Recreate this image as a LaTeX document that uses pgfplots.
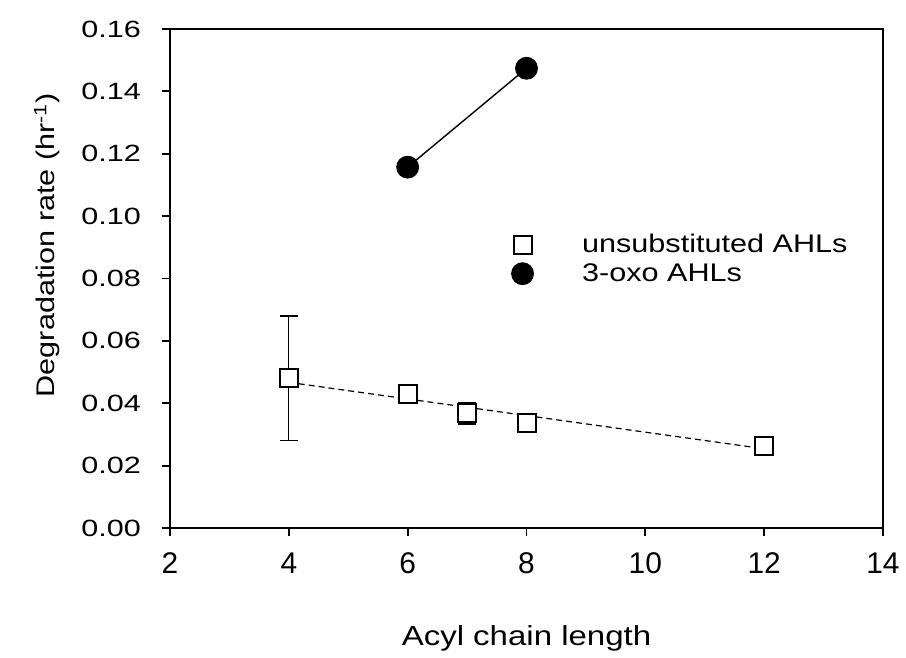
\documentclass[border=0pt]{standalone}
\usepackage{fontspec}
\setmainfont{Liberation Sans}
\newfontfamily\widefont{Liberation Sans}[FakeStretch=1.2]
\newfontfamily\ytickfont{Liberation Sans}[FakeStretch=1.3]
\usepackage{pgfplots}
\pgfplotsset{compat=1.18}
\pgfplotsset{mylegend/.style={legend image code/.code={%
  \path[draw=none, fill=none] (0,0) -- (1.28cm,0);
  \path[##1, draw=none] plot coordinates {(0.3cm,0cm)};}}}

\begin{document}
\begin{tikzpicture}
\begin{axis}[
  at={(0,0)}, anchor=south west,
  scale only axis,
  width=356.5bp, height=249.5bp,
  xmin=2, xmax=14, ymin=0, ymax=0.16,
  xtick={2,4,6,8,10,12,14},
  ytick={0,0.02,0.04,0.06,0.08,0.10,0.12,0.14,0.16},
  xtick pos=left, ytick pos=left,
  tick align=outside,
  major tick length=4bp,
  axis line style={line width=0.9bp},
  every tick/.style={black, line width=0.9bp},
  /pgf/number format/assume math mode=true,
  yticklabel style={/pgf/number format/fixed, /pgf/number format/fixed zerofill,
    /pgf/number format/precision=2, xshift=-7bp, font=\ytickfont\fontsize{11.8}{14}\selectfont},
  xticklabel style={yshift=-5bp, font=\fontsize{15}{18}\selectfont},
  xlabel={Acyl chain length},
  ylabel={Degradation rate (hr\textsuperscript{-1})},
  xlabel style={at={(rel axis cs:0.5,0)}, anchor=base, yshift=-58.5bp,
    font=\widefont\fontsize{13.8}{16}\selectfont},
  ylabel style={at={(rel axis cs:0,0.567)}, anchor=base, yshift=57.5bp,
    font=\widefont\fontsize{12.8}{15}\selectfont},
  legend style={draw=none, fill=none, at={(axis cs:7.54,0.097)}, anchor=north west,
    font=\widefont\fontsize{12.8}{15}\selectfont, row sep=0bp},
  legend cell align=left,
]

% fitted line (unsubstituted) and connecting line (3-oxo)
\addplot[forget plot, black, line width=0.6bp, dash pattern=on 3bp off 2bp]
coordinates {
  (4,0.0467)(12,0.0254)
};
\addplot[forget plot, black, line width=0.7bp]
coordinates {
  (6,0.1157)(8,0.1474)
};

% unsubstituted AHLs
\addplot[
  only marks, black,
  mark=square*, mark size=4.5bp,
  mark options={fill=white, draw=black, line width=1bp},
  mylegend,
  error bars/.cd, y dir=both, y explicit,
  error bar style={line width=0.6bp},
  error mark options={rotate=90, mark size=4.5bp, line width=0.8bp},
]
coordinates {
  (4,0.048) +- (0,0.020)
  (6,0.043) +- (0,0)
  (7,0.0368) +- (0,0.0035)
  (8,0.0336) +- (0,0)
  (12,0.0263) +- (0,0)
};

% 3-oxo AHLs
\addplot[
  only marks, black,
  mark=*, mark size=5.5bp,
  mark options={fill=black, draw=black},
  mylegend,
]
coordinates {
  (6,0.1157)(8,0.1474)
};

\legend{unsubstituted AHLs, 3-oxo AHLs}
\end{axis}
\pgfresetboundingbox
\path[use as bounding box] (-85bp,-65bp) rectangle (368bp,264bp);
\end{tikzpicture}
\end{document}
